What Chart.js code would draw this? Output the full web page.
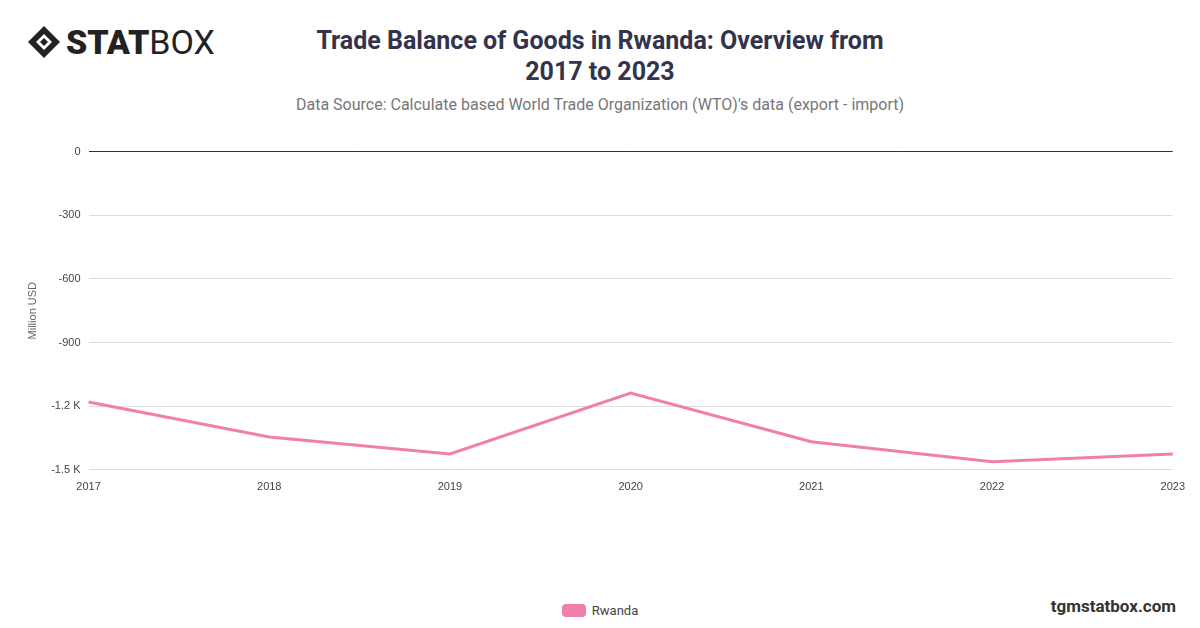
<!DOCTYPE html>
<html>
<head>
<meta charset="utf-8">
<script src="https://cdn.jsdelivr.net/npm/chart.js@4.4.0/dist/chart.umd.min.js"></script>
<style>
  body { margin: 0; width: 1200px; height: 628px; background: #fff; font-family: Roboto, "Noto Sans", sans-serif; position: relative; overflow: hidden; }
  #logo { position: absolute; left: 26px; top: 22px; font-size: 34px; color: #222; display: flex; align-items: center; }
  #logo b { font-weight: 900; }
  #title { position: absolute; left: 0; width: 1200px; top: 25px; text-align: center; }
  #title h1 { margin: 0 auto; width: 600px; font-size: 25px; line-height: 31px; color: #33334d; font-weight: 700; }
  #title p { margin: 8px 0 0; font-size: 16px; color: #777; }
  #wrap { position: absolute; left: 22px; top: 137px; width: 1166px; height: 360px; }
  #legend { position: absolute; left: 0; width: 1200px; top: 603px; text-align: center; font-size: 13px; color: #444; }
  #legend span.box { display: inline-block; width: 24px; height: 13px; background: #f17fab; border-radius: 4px; vertical-align: -2px; margin-right: 6px; }
  #site { position: absolute; right: 24px; top: 596px; font-size: 17px; font-weight: 700; color: #333; }
</style>
</head>
<body>
<div id="logo">
  <svg width="36" height="36" viewBox="0 0 36 36" style="margin-right:4px"><path d="M18 2 L34 18 L18 34 L2 18 Z" fill="#222"/><path d="M18 10 L26 18 L18 26 L10 18 Z" fill="#fff"/><path d="M18 14 L22 18 L18 22 L14 18 Z" fill="#222"/></svg>
  <b>STAT</b>BOX
</div>
<div id="title">
  <h1>Trade Balance of Goods in Rwanda: Overview from 2017 to 2023</h1>
  <p>Data Source: Calculate based World Trade Organization (WTO)'s data (export - import)</p>
</div>
<div id="wrap"><canvas id="c"></canvas></div>
<div id="legend"><span class="box"></span>Rwanda</div>
<div id="site">tgmstatbox.com</div>
<script>
const years = ["2017", "2018", "2019", "2020", "2021", "2022", "2023"];
const rwanda = [-1180, -1345, -1425, -1138, -1368, -1462, -1425];

new Chart(document.getElementById("c"), {
  type: "line",
  data: {
    labels: years,
    datasets: [{
      label: "Rwanda",
      data: rwanda,
      borderColor: "#f17fab",
      backgroundColor: "#f17fab",
      borderWidth: 3,
      pointRadius: 0,
      tension: 0
    }]
  },
  options: {
    responsive: true,
    maintainAspectRatio: false,
    animation: false,
    plugins: { legend: { display: false }, tooltip: { enabled: false } },
    scales: {
      x: {
        offset: false,
        grid: { display: false },
        border: { display: false },
        ticks: { color: "#444", font: { size: 11 }, maxRotation: 0 }
      },
      y: {
        min: -1500,
        max: 0,
        ticks: {
          stepSize: 300,
          color: "#444",
          font: { size: 11 },
          padding: 8,
          callback: v => Math.abs(v) >= 1000 ? (v / 1000).toFixed(1) + " K" : v
        },
        grid: {
          color: ctx => ctx.tick && ctx.tick.value === 0 ? "#333" : "#ddd",
          drawTicks: false
        },
        border: { display: false },
        title: { display: true, text: "Million USD", color: "#666", font: { size: 11 } }
      }
    }
  }
});
</script>
</body>
</html>
